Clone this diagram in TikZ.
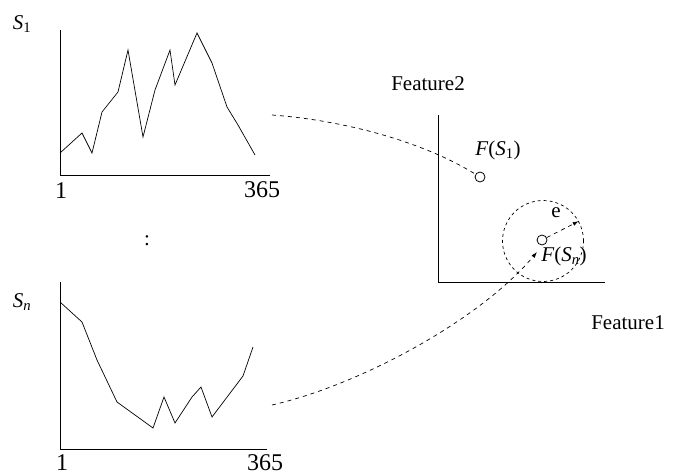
\documentclass[tikz,border=0pt]{standalone}
\usepackage{fontspec}
\setmainfont{Liberation Serif}
\usetikzlibrary{arrows.meta}
\begin{document}
\begin{tikzpicture}[x=1pt,y=-1pt,
  every node/.style={font=\fontsize{21}{24}\selectfont},
  num/.style={font=\fontsize{24}{26}\selectfont,inner sep=0.5pt},
  axis/.style={line width=0.9pt},
  series/.style={line width=0.7pt},
  link/.style={line width=0.7pt,dash pattern=on 4pt off 4pt},
  pt/.style={circle,draw,line width=0.8pt,minimum size=10pt,inner sep=0pt}]
\useasboundingbox (0,0) rectangle (677,476);
% top series
\draw[axis] (60,30) -- (60,175) -- (270,175);
\node (s1) at (22,24) {\textit{S}\textsubscript{1}};
\node[num] (t1a) at (61,191) {1};
\node[num] (t1b) at (262,190) {365};
\draw[series] (60,153) -- (82,133) -- (92,153) -- (102,112) -- (118,92) -- (128,50) -- (143,137) -- (155,90) -- (170,50) -- (175,85) -- (197,33) -- (212,63) -- (227,107) -- (238,125) -- (255,155);
% ellipsis
\node (dots) at (147,241) {:};
% bottom series
\draw[axis] (60,282) -- (60,449) -- (267,449);
\node (sn) at (22,302) {\textit{S}\textsubscript{\textit{n}}};
\node[num] (t2a) at (62,463) {1};
\node[num] (t2b) at (265,463) {365};
\draw[series] (60,302) -- (82,322) -- (97,360) -- (117,402) -- (153,428) -- (164,397) -- (175,423) -- (192,397) -- (201,387) -- (212,417) -- (243,376) -- (253,347);
% feature space
\draw[axis] (438,115) -- (438,282) -- (605,282);
\node (f2) at (428,84) {Feature2};
\node (f1lab) at (628,323) {Feature1};
\node[pt] (p1) at (480,177) {};
\node (p1lab) at (498,150) {\textit{F}(\textit{S}\textsubscript{1})};
\node[pt,minimum size=81pt,dash pattern=on 3pt off 3pt,line width=0.7pt] (eps) at (543,241) {};
\node[pt] (pn) at (542,240) {};
\node (pnlab) at (564,256) {\textit{F}(\textit{S}\textsubscript{\textit{n}})};
\node (elab) at (556,213) {e};
\draw[link,-{Latex[length=6pt,width=4pt]}] (pn) -- (eps.29);
% links
\coordinate (c1) at (272,115);
\coordinate (c2) at (272,405);
\coordinate (c3) at (537,252);
\draw[link] (c1) .. controls (340,120) and (420,140) .. (p1);
\draw[link,-{Latex[length=6pt,width=4pt]}] (c2) .. controls (360,385) and (480,320) .. (c3);
\end{tikzpicture}
\end{document}
